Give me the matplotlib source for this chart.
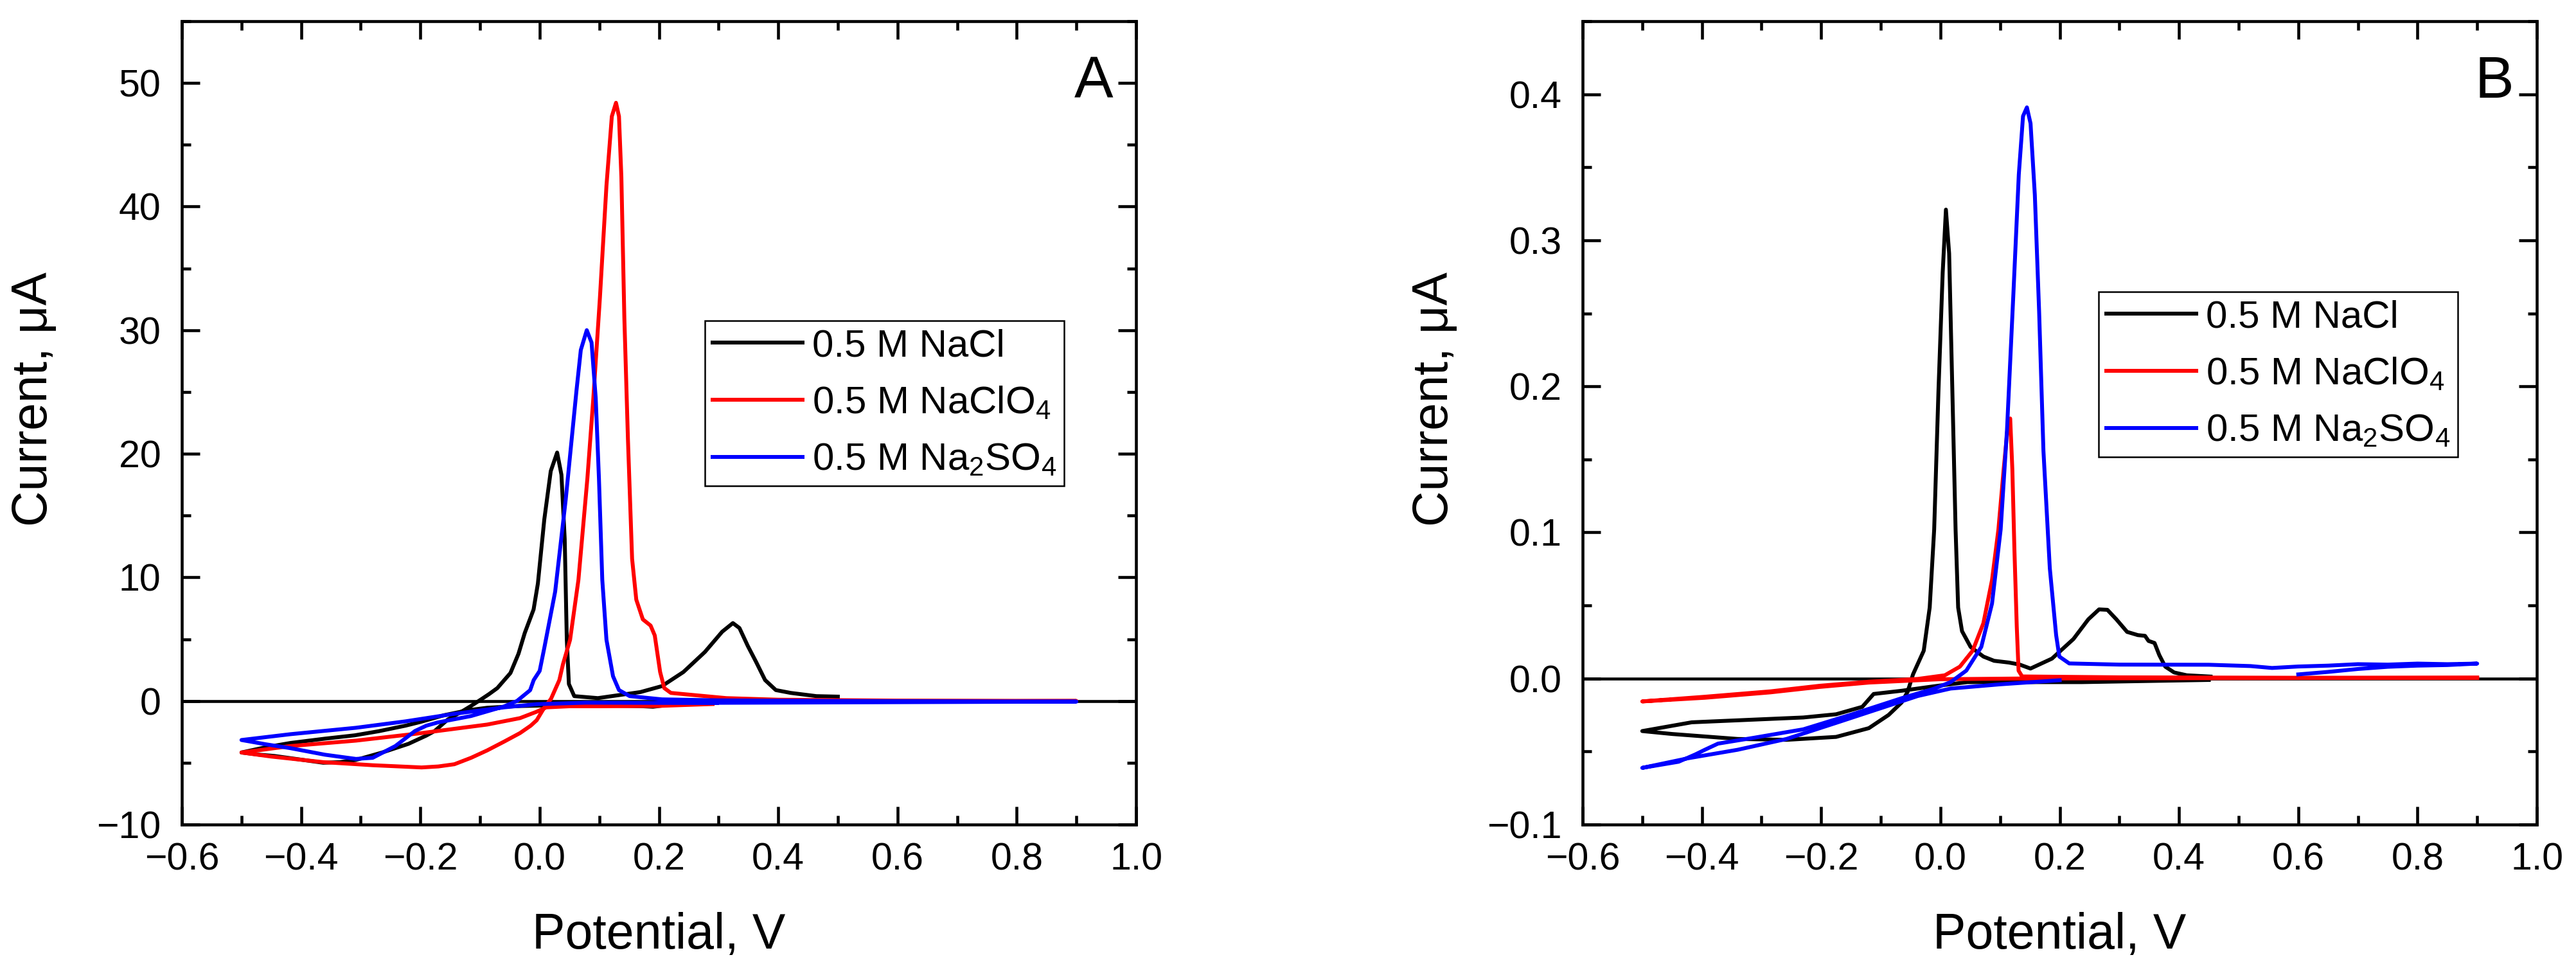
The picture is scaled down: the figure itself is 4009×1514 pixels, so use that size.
import matplotlib
matplotlib.use("Agg")
import matplotlib.pyplot as plt
from matplotlib.ticker import MultipleLocator, FuncFormatter

plt.rcParams['font.family'] = ['Liberation Sans', 'DejaVu Sans']
plt.rcParams['mathtext.fontset'] = 'custom'
plt.rcParams['mathtext.rm'] = 'Liberation Sans'
plt.rcParams['mathtext.it'] = 'Liberation Sans:italic'
plt.rcParams['mathtext.bf'] = 'Liberation Sans:bold'

# ---------------- data: panel A (current in uA) ----------------
labels = ['0.5 M NaCl', '0.5 M NaClO$_4$', '0.5 M Na$_2$SO$_4$']
colors = ['#000000', '#ff0000', '#0000ff']

a_nacl_E = [0.21, 0.19, 0.17, 0.10, 0.02, -0.04, -0.088, -0.12, -0.16, -0.20, -0.225, -0.27, -0.31,
            -0.36, -0.418, -0.46, -0.5,
            -0.47, -0.445, -0.40, -0.363, -0.335, -0.308, -0.264, -0.22, -0.19, -0.176, -0.154, -0.132,
            -0.115, -0.099, -0.085, -0.071, -0.049, -0.0355, -0.025, -0.0102, -0.003, 0.0078, 0.0186,
            0.0293, 0.0365, 0.042, 0.0455, 0.049, 0.058, 0.0976, 0.169, 0.205, 0.241, 0.277, 0.306,
            0.324, 0.335, 0.349, 0.363, 0.378, 0.396, 0.421, 0.464, 0.5]
a_nacl_I = [-0.35, -0.47, -0.42, -0.36, -0.35, -0.42, -0.55, -0.75, -1.15, -1.7, -2.0, -2.45, -2.78,
            -3.05, -3.4, -3.75, -4.17,
            -4.35, -4.45, -4.75, -5.0, -4.95, -4.77, -4.17, -3.47, -2.8, -2.43, -1.5, -0.9,
            -0.4, 0.1, 0.55, 1.04, 2.26, 3.82, 5.5, 7.4, 9.5, 14.7, 18.6,
            20.1, 18.3, 13.1, 4.95, 1.37, 0.39, 0.23, 0.72, 1.2, 2.34, 3.96, 5.6,
            6.3, 5.9, 4.45, 3.15, 1.69, 0.88, 0.65, 0.39, 0.35]

a_naclo4_E = [0.29, 0.2, 0.1, 0.05, 0.011, -0.005, -0.033, -0.088, -0.198, -0.308, -0.418, -0.5,
              -0.45, -0.363, -0.28, -0.198, -0.17, -0.143, -0.115, -0.088, -0.06, -0.033, -0.015,
              -0.005, 0.008, 0.019, 0.033, 0.039, 0.051, 0.065, 0.08, 0.09, 0.101, 0.112, 0.121,
              0.128, 0.133, 0.137, 0.142, 0.148, 0.155, 0.162, 0.173, 0.186, 0.193, 0.202, 0.209,
              0.22, 0.313, 0.4, 0.6, 0.9, 0.6, 0.3]
a_naclo4_I = [-0.25, -0.4, -0.43, -0.43, -0.52, -0.87, -1.39, -1.91, -2.6, -3.21, -3.65, -4.17,
              -4.5, -4.95, -5.2, -5.38, -5.3, -5.12, -4.6, -4.0, -3.3, -2.6, -2.0,
              -1.56, -0.52, 0.17, 1.69, 2.96, 4.95, 9.8, 18.0, 24.5, 32.6, 41.7, 47.3,
              48.4, 47.3, 42.4, 31.0, 21.2, 11.5, 8.2, 6.6, 6.1, 5.3, 2.34, 1.04,
              0.65, 0.23, 0.1, 0.03, 0.0, -0.05, -0.1]

a_na2so4_E = [0.297, 0.077, -0.005, -0.06, -0.143, -0.225, -0.308, -0.418, -0.5,
              -0.46, -0.418, -0.36, -0.308, -0.28, -0.242, -0.209, -0.19, -0.171, -0.115, -0.06,
              -0.038, -0.016, -0.010, 0.0, 0.0078, 0.026, 0.0437, 0.0617, 0.069, 0.079, 0.087,
              0.094, 0.0994, 0.105, 0.112, 0.123, 0.133, 0.151, 0.205, 0.3, 0.5, 0.9, 0.6, 0.3]
a_na2so4_I = [-0.17, -0.14, -0.26, -0.52, -1.04, -1.65, -2.17, -2.69, -3.16,
              -3.5, -3.82, -4.35, -4.69, -4.6, -3.65, -2.43, -2.0, -1.74, -1.22, -0.45,
              0.0, 0.87, 1.69, 2.43, 4.3, 8.85, 16.3, 25.1, 28.4, 30.0, 29.0,
              24.5, 18.0, 9.8, 4.95, 2.0, 0.88, 0.39, 0.13, 0.05, 0.0, -0.05, -0.1, -0.15]

# ---------------- data: panel B (current in uA) ----------------
b_nacl_E = [0.45, 0.237, 0.045, -0.010, -0.065, -0.112, -0.131, -0.175, -0.230, -0.417, -0.5,
            -0.45, -0.34, -0.258, -0.175, -0.12, -0.087, -0.065, -0.055, -0.046, -0.028, -0.018,
            -0.0105, -0.0033, 0.0038, 0.0092, 0.0146, 0.02, 0.0254, 0.0297, 0.0362, 0.0506,
            0.0721, 0.09, 0.115, 0.133, 0.151, 0.187, 0.223, 0.248, 0.266, 0.28, 0.295, 0.313,
            0.331, 0.343, 0.349, 0.359, 0.367, 0.377, 0.392, 0.413, 0.453]
b_nacl_I = [-0.001, -0.0025, -0.0025, -0.0053, -0.0084, -0.0106, -0.0194, -0.0245, -0.0267, -0.030, -0.036,
            -0.038, -0.0414, -0.042, -0.040, -0.034, -0.025, -0.0164, -0.0091, 0.0028, 0.019, 0.0486,
            0.102, 0.197, 0.278, 0.321, 0.291, 0.197, 0.102, 0.0486, 0.0324, 0.0216,
            0.015, 0.0121, 0.0109, 0.0095, 0.0068, 0.0136, 0.027, 0.0405, 0.0473, 0.047, 0.0405, 0.0319,
            0.0297, 0.0292, 0.0257, 0.0243, 0.016, 0.0081, 0.0041, 0.0022, 0.0013]

b_naclo4_E = [0.9, 0.14, 0.0, -0.12, -0.203, -0.285, -0.395, -0.5,
              -0.395, -0.285, -0.203, -0.12, -0.038, 0.0074, 0.0326, 0.054, 0.072, 0.0865, 0.0972,
              0.106, 0.1134, 0.117, 0.1206, 0.124, 0.128, 0.131, 0.137, 0.3, 0.6, 0.9]
b_naclo4_I = [0.0005, 0.0, -0.0005, -0.0028, -0.0058, -0.0095, -0.0132, -0.0157,
              -0.0125, -0.0088, -0.005, -0.0022, -0.0003, 0.0022, 0.0081, 0.019, 0.0378, 0.0674, 0.102,
              0.143, 0.175, 0.178, 0.143, 0.089, 0.0355, 0.0054, 0.0014, 0.0008, 0.0005, 0.0005]

b_na2so4_E = [0.2, 0.10, 0.017, -0.038, -0.093, -0.175, -0.258, -0.34, -0.423, -0.5,
              -0.439, -0.411, -0.395, -0.373, -0.313, -0.23, -0.148, -0.065, -0.01, 0.017, 0.0434,
              0.0685, 0.0865, 0.101, 0.1116, 0.1224, 0.1314, 0.1385, 0.145, 0.1511, 0.1583, 0.1655,
              0.1727, 0.1834, 0.194, 0.1994, 0.216, 0.3, 0.45, 0.52, 0.556, 0.6, 0.65, 0.7, 0.75,
              0.8, 0.85, 0.9, 0.85, 0.8, 0.75, 0.7, 0.65, 0.6]
b_na2so4_I = [-0.0012, -0.004, -0.0069, -0.012, -0.0194, -0.0304, -0.0414, -0.0488, -0.0546, -0.0612,
              -0.057, -0.052, -0.0488, -0.0446, -0.0406, -0.0348, -0.0245, -0.0135, -0.0069, -0.0025, 0.0054,
              0.0216, 0.0513, 0.102, 0.17, 0.264, 0.345, 0.385, 0.391, 0.38, 0.331, 0.251,
              0.156, 0.0755, 0.0297, 0.015, 0.0103, 0.0095, 0.0094, 0.0085, 0.0072, 0.0082, 0.0088, 0.0098, 0.0095,
              0.0102, 0.0098, 0.0102, 0.0092, 0.0088, 0.0080, 0.0065, 0.0045, 0.0028]

panels = [
    dict(tag='A', series=[(a_nacl_E, a_nacl_I), (a_naclo4_E, a_naclo4_I), (a_na2so4_E, a_na2so4_I)],
         ylim=(-10, 55), ymaj=10, ymin=5, ydec=0, left=283, leg=(1097, 499)),
    dict(tag='B', series=[(b_nacl_E, b_nacl_I), (b_naclo4_E, b_naclo4_I), (b_na2so4_E, b_na2so4_I)],
         ylim=(-0.1, 0.45), ymaj=0.1, ymin=0.05, ydec=1, left=2463, leg=(3266, 454)),
]


def make_fmt(dec):
    def f(v, pos):
        if abs(v) < 1e-9:
            v = 0.0
        s = f"{abs(v):.{dec}f}"
        return ('\u2212' + s) if v < 0 else s
    return FuncFormatter(f)


W, H = 4009, 1514
DPI = 300
fig = plt.figure(figsize=(W / DPI, H / DPI), dpi=DPI)

ax_top, ax_bot = 33, 1283
ax_w = 1485

for p in panels:
    ax = fig.add_axes([p['left'] / W, 1 - ax_bot / H, ax_w / W, (ax_bot - ax_top) / H])
    ax.axhline(0, color='black', lw=1.1, zorder=1)
    for (E, I), c, lab in zip(p['series'], colors, labels):
        ax.plot(E, I, color=c, lw=1.45, label=lab, zorder=2, solid_joinstyle='round')
    ax.set_xlim(-0.6, 1.0)
    ax.set_ylim(*p['ylim'])
    ax.xaxis.set_major_locator(MultipleLocator(0.2))
    ax.xaxis.set_minor_locator(MultipleLocator(0.1))
    ax.yaxis.set_major_locator(MultipleLocator(p['ymaj']))
    ax.yaxis.set_minor_locator(MultipleLocator(p['ymin']))
    ax.xaxis.set_major_formatter(make_fmt(1))
    ax.yaxis.set_major_formatter(make_fmt(p['ydec']))
    ax.tick_params(which='both', direction='in', top=True, right=True, width=1.1)
    ax.tick_params(which='major', length=6.7, labelsize=14.2)
    ax.tick_params(which='minor', length=3.4)
    ax.tick_params(axis='x', which='major', pad=6.5)
    ax.tick_params(axis='y', which='major', pad=7.8)
    for s in ax.spines.values():
        s.set_linewidth(1.1)
    ax.set_xlabel('Potential, V', fontsize=18.5, va='baseline')
    ax.xaxis.set_label_coords(0.5, -0.154)
    ax.set_ylabel('Current, μA', fontsize=18.5, va='center')
    ax.yaxis.set_label_coords(-0.155, 0.53)
    ax.text(0.976, 0.905, p['tag'], transform=ax.transAxes, ha='right', va='baseline', fontsize=21.8)
    lx = (p['leg'][0] - p['left']) / ax_w
    ly = (ax_bot - p['leg'][1]) / (ax_bot - ax_top)
    leg = ax.legend(loc='upper left', bbox_to_anchor=(lx, ly), borderaxespad=0, fancybox=False,
                    edgecolor='black', framealpha=1, fontsize=14.4, handlelength=2.33,
                    handletextpad=0.25, borderpad=0.2, labelspacing=0.55)
    leg.get_frame().set_linewidth(0.6)
    for ln in leg.get_lines():
        ln.set_linewidth(1.45)

fig.savefig('out.png', dpi=DPI)
